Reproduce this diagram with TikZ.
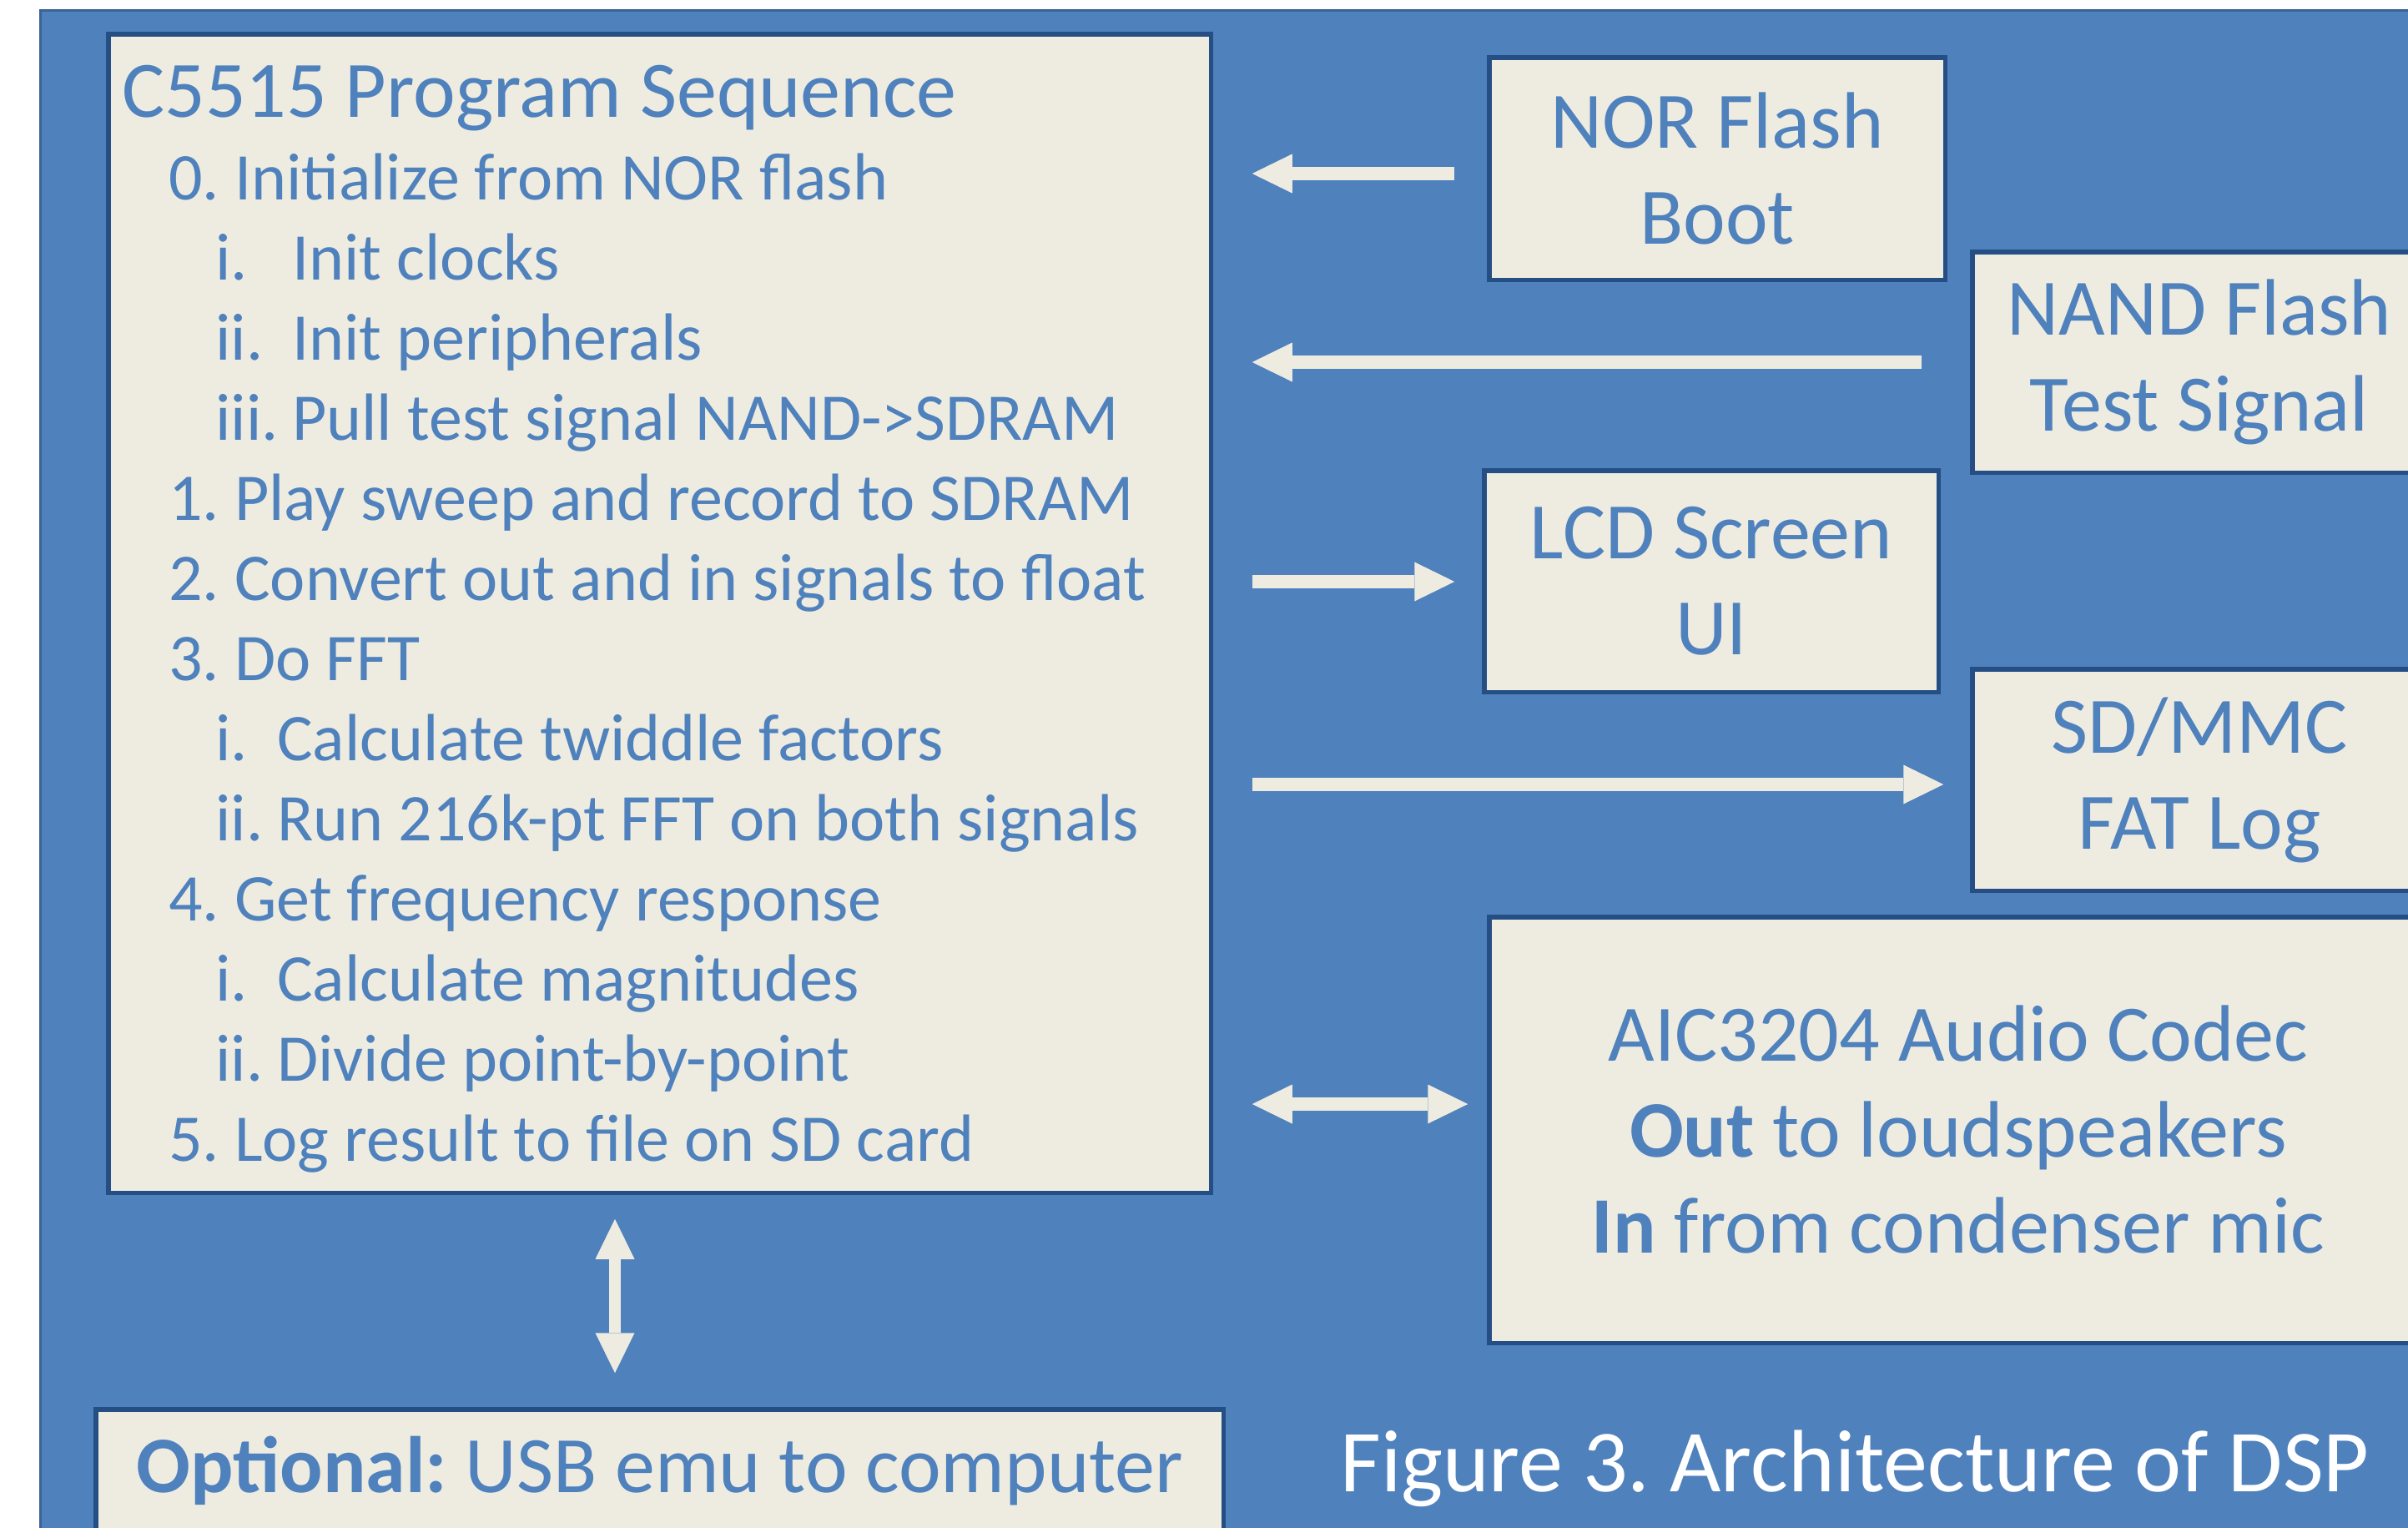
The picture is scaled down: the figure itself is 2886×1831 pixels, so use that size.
\documentclass[tikz,border=0pt]{standalone}
\usepackage{fontspec}
\setmainfont{Carlito}
\usetikzlibrary{arrows.meta,calc}
\definecolor{bgblue}{HTML}{4F81BD}
\definecolor{boxfill}{HTML}{EEECE1}
\definecolor{boxline}{HTML}{254E85}
\definecolor{txtblue}{HTML}{4F81BD}
\definecolor{frameline}{HTML}{3B6396}
\frenchspacing
\begin{document}
\begin{tikzpicture}[x=0.5pt,y=-0.5pt,
  box/.style={draw=boxline, line width=2.75pt, fill=boxfill, inner sep=0pt, text=txtblue, align=center, font=\fontsize{48}{57.5}\selectfont},
  listline/.style={anchor=base west, inner sep=0pt, text=txtblue, font=\fontsize{40}{48}\selectfont},
  arr/.style={draw=boxfill, line width=8pt, -{Triangle[length=24pt,width=23.5pt,line width=0pt]}},
  darr/.style={draw=boxfill, line width=8pt, {Triangle[length=24pt,width=23.5pt,line width=0pt]}-{Triangle[length=24pt,width=23.5pt,line width=0pt]}},
  varr/.style={draw=boxfill, line width=7pt, {Triangle[length=24pt,width=23.5pt,line width=0pt]}-{Triangle[length=24pt,width=23.5pt,line width=0pt]}}]
\useasboundingbox (0,0) rectangle (2886,1831);
\fill[white] (0,0) rectangle (2886,1831);
\fill[bgblue] (48,12) rectangle (2960,1900);
\draw[frameline, line width=1.5pt] (2960,12) -- (48,12) -- (48,1900);

% main program box
\node[box, minimum width=660.75pt, minimum height=694.25pt] (main) at (790.5,735) {};
\node[listline, font=\fontsize{48}{57.5}\selectfont] (title) at (146,140) {C5515 Program Sequence};
\node[listline] (l0) at (202,239.5) {0. Initialize from NOR flash};
\node[listline] (l1) at (258,335.5) {\makebox[46pt][l]{i.}Init clocks};
\node[listline] (l2) at (258,431.5) {\makebox[46pt][l]{ii.}Init peripherals};
\node[listline] (l3) at (258,527.5) {\makebox[46pt][l]{iii.}Pull test signal NAND->SDRAM};
\node[listline] (l4) at (202,623.5) {1. Play sweep and record to SDRAM};
\node[listline] (l5) at (202,719.5) {2. Convert out and in signals to float};
\node[listline] (l6) at (202,815.5) {3. Do FFT};
\node[listline] (l7) at (258,911.5) {\makebox[37pt][l]{i.}Calculate twiddle factors};
\node[listline] (l8) at (258,1007.5) {\makebox[37pt][l]{ii.}Run 216k-pt FFT on both signals};
\node[listline] (l9) at (202,1103.5) {4. Get frequency response};
\node[listline] (l10) at (258,1199.5) {\makebox[37pt][l]{i.}Calculate magnitudes};
\node[listline] (l11) at (258,1295.5) {\makebox[37pt][l]{ii.}Divide point-by-point};
\node[listline] (l12) at (202,1391.5) {5. Log result to file on SD card};

% peripheral boxes
\node[box, minimum width=273.25pt, minimum height=133.25pt] (nor) at (2058,202) {NOR Flash\\Boot};
\node[box, minimum width=272.25pt, minimum height=132.25pt] (nand) at (2636,434) {NAND Flash\\Test Signal};
\node[box, minimum width=272.25pt, minimum height=132.75pt] (lcd) at (2051,696.5) {LCD Screen\\UI};
\node[box, minimum width=272.25pt, minimum height=132.75pt] (sd) at (2636,934.5) {SD/MMC\\FAT Log};
\node[box, minimum width=562.25pt, minimum height=255.25pt] (aic) at (2347,1354) {AIC3204 Audio Codec\\\textbf{Out} to loudspeakers\\\textbf{In} from condenser mic};
\node[box, minimum width=675.75pt, minimum height=73.25pt] (usb) at (790.5,1762) {\textbf{Optional:} USB emu to computer};

% caption
\node[anchor=base west, inner sep=0pt, text=white, font=\fontsize{53}{60}\selectfont] (cap) at (1606,1787) {Figure 3. Architecture of DSP};

% connectors
\draw[arr] ($(nor.west)+(-38.75,6)$) -- ($(main.east |- nor.west)+(46.75,6)$);
\draw[arr] ($(nand.west)+(-57.75,0)$) -- ($(main.east |- nand.west)+(46.75,0)$);
\draw[arr] ($(main.east |- lcd.west)+(46.75,0.5)$) -- ($(lcd.west)+(-32.75,0.5)$);
\draw[arr] ($(main.east |- sd.west)+(46.75,5.5)$) -- ($(sd.west)+(-31.75,5.5)$);
\draw[darr] ($(main.east |- aic.west)+(46.75,-31)$) -- ($(aic.west)+(-22.75,-31)$);
\draw[varr] ($(main.south)+(-53.5,28.75)$) -- ($(usb.north)+(-53.5,-40.75)$);
\end{tikzpicture}
\end{document}
